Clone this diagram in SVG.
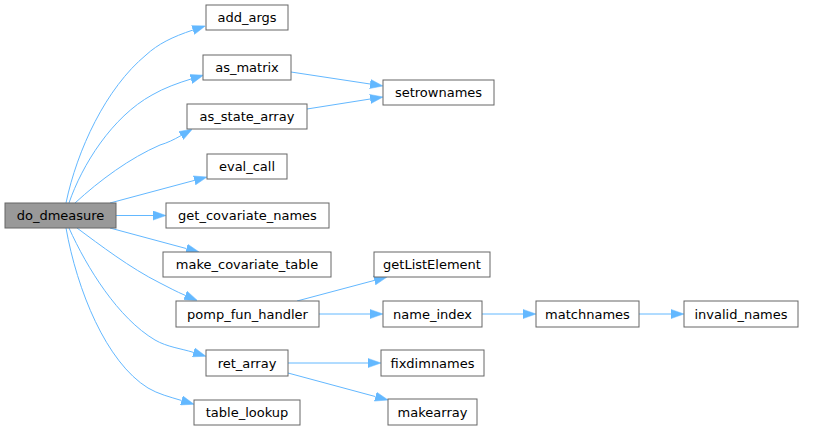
<svg xmlns="http://www.w3.org/2000/svg" width="824" height="431" viewBox="0 0 824 431">
<style>
.n rect{fill:#ffffff;stroke:#666666;stroke-width:1}
.n.root rect{fill:#999999}
.n text{font-family:"DejaVu Sans",sans-serif;font-size:13px;fill:#000000;text-anchor:middle}
.e path{fill:none;stroke:#63b8ff;stroke-width:1;marker-end:url(#ah)}
</style>
<defs>
<marker id="ah" markerUnits="userSpaceOnUse" markerWidth="13" markerHeight="10" viewBox="0 0 13 10" refX="0" refY="5" orient="auto">
<path d="M0,0.4 L13,5 L0,9.6 Z" fill="#63b8ff" stroke="#63b8ff" stroke-width="0.5"/>
</marker>
</defs>
<rect width="824" height="431" fill="#ffffff"/>
<g id="edges" class="e">
<path d="M66,203 C77,150 106,88 146,55 C158,44 172,37 193,30"/>
<path d="M69,203 C82,165 112,117 152,95 C164,88 178,83 191,79"/>
<path d="M75,203 C100,180 130,158 160,145 C167,143 174,139.6 181,135.6"/>
<path d="M110,203 L194.4,180.4"/>
<path d="M116,215.5 L153,215.5"/>
<path d="M110,228 L186.5,248.6"/>
<path d="M77,228 C100,245 130,268 160,283 C168,287 176,291.5 185.3,295.4"/>
<path d="M69,228 C87,268 118,318 155,340 C167,347 181,348.5 193.5,352.4"/>
<path d="M66,228 C77,290 106,362 148,388 C158,394 170,397 181.6,400.5"/>
<path d="M291,72 L370.1,84"/>
<path d="M307,109 L370.2,99"/>
<path d="M297,301 L374.4,280.4"/>
<path d="M319,314 L370,314"/>
<path d="M482,314 L523,314"/>
<path d="M639,314 L671,314"/>
<path d="M288,363 L368,363"/>
<path d="M288,373 L375.5,396.6"/>
</g>
<g id="do_dmeasure" class="n root"><rect x="5" y="203" width="111" height="25"/><text x="60.5" y="220">do_dmeasure</text></g>
<g id="add_args" class="n"><rect x="206" y="5" width="82" height="25"/><text x="247" y="22">add_args</text></g>
<g id="as_matrix" class="n"><rect x="203" y="55" width="88" height="25"/><text x="247" y="72">as_matrix</text></g>
<g id="as_state_array" class="n"><rect x="187" y="104" width="120" height="25"/><text x="247" y="121">as_state_array</text></g>
<g id="eval_call" class="n"><rect x="207" y="154" width="80" height="25"/><text x="247" y="171">eval_call</text></g>
<g id="get_covariate_names" class="n"><rect x="166" y="203" width="163" height="25"/><text x="247.5" y="220">get_covariate_names</text></g>
<g id="make_covariate_table" class="n"><rect x="163" y="252" width="168" height="25"/><text x="247" y="269">make_covariate_table</text></g>
<g id="pomp_fun_handler" class="n"><rect x="176" y="301" width="143" height="26"/><text x="247.5" y="318.5">pomp_fun_handler</text></g>
<g id="ret_array" class="n"><rect x="206" y="350" width="82" height="26"/><text x="247" y="367.5">ret_array</text></g>
<g id="table_lookup" class="n"><rect x="194" y="400" width="106" height="25"/><text x="247" y="417">table_lookup</text></g>
<g id="setrownames" class="n"><rect x="383" y="80" width="111" height="25"/><text x="438.5" y="97">setrownames</text></g>
<g id="getListElement" class="n"><rect x="374" y="252" width="116" height="25"/><text x="432" y="269">getListElement</text></g>
<g id="name_index" class="n"><rect x="383" y="301" width="99" height="26"/><text x="432.5" y="318.5">name_index</text></g>
<g id="matchnames" class="n"><rect x="536" y="301" width="103" height="26"/><text x="587.5" y="318.5">matchnames</text></g>
<g id="invalid_names" class="n"><rect x="684" y="301" width="114" height="26"/><text x="741" y="318.5">invalid_names</text></g>
<g id="fixdimnames" class="n"><rect x="381" y="350" width="103" height="26"/><text x="432.5" y="367.5">fixdimnames</text></g>
<g id="makearray" class="n"><rect x="388" y="399" width="89" height="26"/><text x="432.5" y="416.5">makearray</text></g>
</svg>
